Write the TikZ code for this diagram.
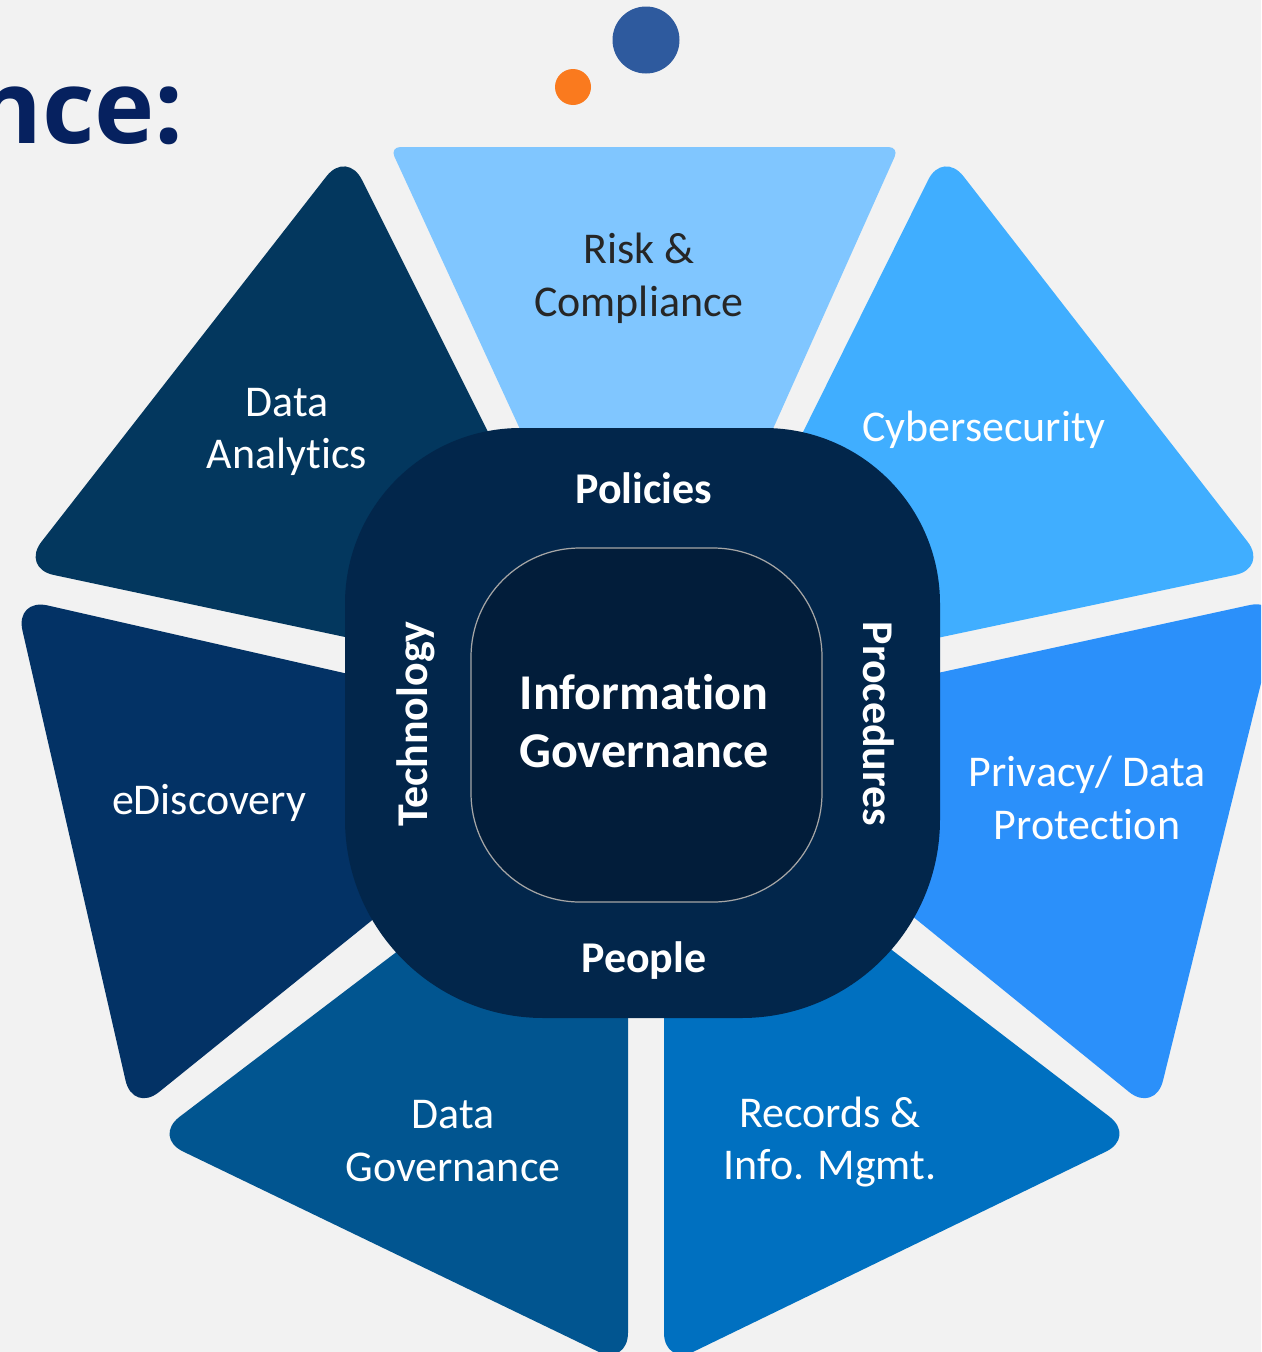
\documentclass[tikz,border=0pt]{standalone}
\usepackage{fontspec}
\setmainfont[Ligatures=NoCommon]{Carlito}
\newfontfamily\titlefont{Open Sans}
\usepackage{tikz}
\definecolor{pagebg}{HTML}{F2F2F2}
\definecolor{titlenavy}{HTML}{06215F}
\definecolor{dotblue}{HTML}{2E5A9E}
\definecolor{dotorange}{HTML}{FA7A1E}
\definecolor{riskcol}{HTML}{80C6FF}
\definecolor{cybercol}{HTML}{40AEFF}
\definecolor{privacycol}{HTML}{2B90FA}
\definecolor{recordscol}{HTML}{0070C0}
\definecolor{datagovcol}{HTML}{015590}
\definecolor{ediscol}{HTML}{033265}
\definecolor{analyticscol}{HTML}{03375E}
\definecolor{ringcol}{HTML}{02264B}
\definecolor{corecol}{HTML}{021D3A}
\tikzset{
  petal/.style={rounded corners=19pt},
  petaltext/.style={align=center,font=\fontsize{25}{30}\selectfont,text=white},
  ringtext/.style={font=\fontsize{25}{30}\selectfont\bfseries,text=white}
}

\begin{document}
\begin{tikzpicture}[x=0.02cm,y=-0.02cm]
  \useasboundingbox (0,0) rectangle (1261,1352);
  \clip (0,0) rectangle (1261,1352);
  \fill[pagebg] (0,0) rectangle (1261,1352);

  % Title and dots
  \node[anchor=base east,font=\titlefont\fontsize{58}{60}\selectfont\bfseries,text=titlenavy] (title) at (190,143) {nce:};
  \fill[dotblue] (646,40) circle (33.5);
  \fill[dotorange] (573,87) circle (18);

  % Petals (inner corners stay hidden under the ring)
  \fill[riskcol,rounded corners=6pt] (390,147) -- (899,147) -- (768,440) -- (525,440) -- cycle;
  \fill[cybercol,petal] (943,150) -- (1268,568) -- (800,667) -- (740,559) -- cycle;
  \fill[privacycol,petal] (1282,598) -- (1155,1113) -- (800,825) -- (800,703) -- cycle;
  \fill[recordscol,petal] (760,849) -- (1136,1137) -- (664,1366) -- (664,900) -- cycle;
  \fill[datagovcol,petal] (532,849) -- (153,1137) -- (628,1366) -- (628,900) -- cycle;
  \fill[ediscol,petal] (15,598) -- (480,704) -- (500,817) -- (133,1113) -- cycle;
  \fill[analyticscol,petal] (347,150) -- (550,556) -- (500,670) -- (21,568) -- cycle;

  % Centre
  \fill[ringcol] (345,700) [rounded corners=100pt] -- (345,428) -- (940,428) [rounded corners=113pt] -- (940,1018) -- (345,1018) [sharp corners] -- cycle;
  \draw[fill=corecol,draw=gray!70,rounded corners=62pt,line width=0.7pt] (471,548) rectangle (822,902);

  % Labels
  \node[petaltext,text=black!85] (risk) at (639,278) {Risk \&\\Compliance};
  \node[petaltext] (cyber) at (984,430) {Cybersecurity};
  \node[petaltext] (privacy) at (1087,798) {Privacy/ Data\\Protection};
  \node[petaltext] (records) at (830,1142) {Records \&\\Info. Mgmt.};
  \node[petaltext] (datagov) at (453,1141) {Data\\Governance};
  \node[petaltext] (edisc) at (209,803) {eDiscovery};
  \node[petaltext] (analytics) at (287,432) {Data\\Analytics};
  \node[ringtext] (policies) at (644,488) {Policies};
  \node[ringtext] (people) at (644,961) {People};
  \node[ringtext,rotate=90] (technology) at (416,724) {Technology};
  \node[ringtext,rotate=-90] (procedures) at (879,724) {Procedures};
  \node[align=center,text=white,font=\fontsize{28.5}{33}\selectfont\bfseries] (core) at (644,721) {Information\\Governance};
\end{tikzpicture}
\end{document}
